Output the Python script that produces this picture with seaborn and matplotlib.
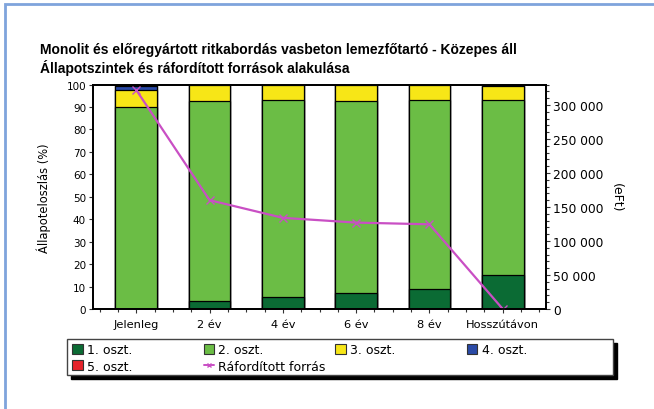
import numpy as np
import pandas as pd
import seaborn as sns
import matplotlib.pyplot as plt
from matplotlib.patches import Rectangle, Patch
from matplotlib.lines import Line2D
from matplotlib.ticker import FuncFormatter, MultipleLocator

# Időszakok és állapotosztályok megoszlása (%)
periods = ["Jelenleg", "2 év", "4 év", "6 év", "8 év", "Hosszútávon"]
oszt1 = [0.0, 3.5, 5.5, 7.0, 9.0, 15.0]
oszt2 = [90.0, 89.0, 87.5, 85.5, 84.0, 78.0]
oszt3 = [7.5, 7.5, 7.0, 7.5, 7.0, 6.5]
oszt4 = [2.0, 0.0, 0.0, 0.0, 0.0, 0.0]
oszt5 = [0.5, 0.0, 0.0, 0.0, 0.0, 0.5]

# Ráfordított forrás (eFt)
forras = [322000, 160000, 134000, 127000, 124500, 0]

class_names = ["1. oszt.", "2. oszt.", "3. oszt.", "4. oszt.", "5. oszt."]
line_name = "Ráfordított forrás"
left_ticks = list(range(0, 101, 10))
right_ticks = list(range(0, 300001, 50000))

colors = ["#0b6b34", "#6bbd45", "#f7e617", "#2a4aa6", "#e5232b"]
line_color = "#c94fc4"

sns.set_style("ticks")
plt.rcParams["font.family"] = ["DejaVu Sans"]
plt.rcParams["text.color"] = "black"
plt.rcParams["axes.labelcolor"] = "black"

df = pd.DataFrame({"Időszak": periods, class_names[0]: oszt1, class_names[1]: oszt2,
                   class_names[2]: oszt3, class_names[3]: oszt4, class_names[4]: oszt5})
cum = df[class_names].cumsum(axis=1)

fig = plt.figure(figsize=(6.54, 4.10), dpi=100)
ax = fig.add_axes([93 / 654, 1 - 310 / 410, (546 - 93) / 654, (310 - 85.5) / 410])

# stacked bars: draw cumulative totals from the top layer down
for name, color in reversed(list(zip(class_names, colors))):
    sns.barplot(x=df["Időszak"], y=cum[name], color=color, saturation=1,
                edgecolor="black", linewidth=0.9, width=0.57, errorbar=None, ax=ax)

ax.set_xlim(-0.59, 5.59)
ax.set_ylim(0, 100)
ax.set_yticks(left_ticks)
ax.set_xlabel("")
ax.set_ylabel("Állapoteloszlás (%)", fontsize=8.3, labelpad=11)
ax.xaxis.set_minor_locator(MultipleLocator(0.25))
ax.tick_params(axis="both", which="both", direction="out", length=3, width=0.8, colors="#333333",
               labelcolor="black")
ax.tick_params(axis="y", labelsize=7.5, pad=2)
ax.tick_params(axis="x", labelsize=8.2, pad=4)
ax.tick_params(axis="x", which="minor", length=2)

ax2 = ax.twinx()
sns.lineplot(x=np.arange(len(periods)), y=forras, ax=ax2, color=line_color, linewidth=1.6,
             marker="x", markersize=6, markeredgewidth=1.0, markeredgecolor=line_color)
ax2.set_ylim(0, 330000)
ax2.set_xlim(-0.59, 5.59)
ax2.set_yticks(right_ticks)
ax2.yaxis.set_minor_locator(MultipleLocator(10000))
ax2.yaxis.set_major_formatter(FuncFormatter(lambda v, p: f"{int(v):,}".replace(",", " ")))
ax2.tick_params(axis="y", which="both", direction="out", length=3, width=0.8, colors="#333333",
                labelcolor="black", labelsize=8.8, pad=2)
ax2.tick_params(axis="y", which="minor", length=2)
ax2.set_ylabel("(eFt)", fontsize=9, rotation=270, labelpad=14)

for a in (ax, ax2):
    for s in a.spines.values():
        s.set_visible(True)
        s.set_color("black")
        s.set_linewidth(1.3)

# title
fig.text(40 / 654, 1 - 54 / 410, "Monolit és előregyártott ritkabordás vasbeton lemezfőtartó - Közepes áll",
         fontsize=10, fontweight="bold", family="Liberation Sans", color="black",
         va="baseline", ha="left")
fig.text(40 / 654, 1 - 73 / 410, "Állapotszintek és ráfordított források alakulása",
         fontsize=10, fontweight="bold", family="Liberation Sans", color="black",
         va="baseline", ha="left")

# legend frame with a drop shadow
bx0, bx1, by0, by1 = 67, 613, 340, 376
fig.patches.append(Rectangle(((bx0 + 4) / 654, 1 - (by1 + 4) / 410), (bx1 - bx0) / 654, (by1 - by0) / 410,
                             transform=fig.transFigure, facecolor="black", edgecolor="black", zorder=1))
fig.patches.append(Rectangle((bx0 / 654, 1 - by1 / 410), (bx1 - bx0) / 654, (by1 - by0) / 410,
                             transform=fig.transFigure, facecolor="white", edgecolor="#444444",
                             linewidth=1.0, zorder=2))

patches = [Patch(facecolor=c, edgecolor="#333333", linewidth=0.8, label=n) for n, c in zip(class_names, colors)]
line_handle = Line2D([], [], color=line_color, linewidth=1.4, marker="x", markersize=3.5, label=line_name)
columns = [[patches[0], patches[4]], [patches[1], line_handle], [patches[2]], [patches[3]]]
col_x = [72, 203.5, 335, 466.5]
for xpos, handles in zip(col_x, columns):
    leg = fig.legend(handles=handles, loc="upper left", bbox_to_anchor=(xpos / 654, 1 - 344 / 410),
                     frameon=False, fontsize=9, handlelength=0.85, handleheight=0.85,
                     handletextpad=0.35, labelspacing=0.3, borderpad=0, borderaxespad=0)
    leg.set_zorder(3)

# outer page border
fig.patches.append(Rectangle((5 / 654, -0.1), 1.2, 1 - 5 / 410 + 0.1, transform=fig.transFigure,
                             facecolor="none", edgecolor="#7fa4dc", linewidth=2.0, zorder=0))

fig.savefig("out.png", dpi=100)
